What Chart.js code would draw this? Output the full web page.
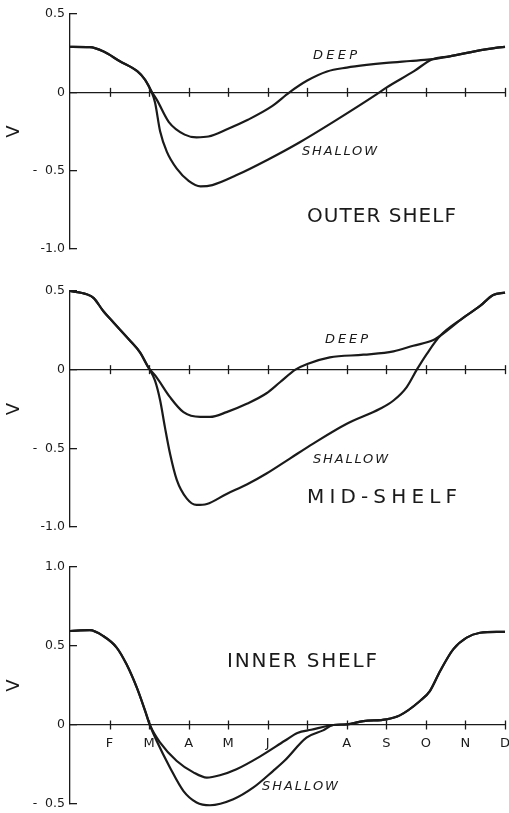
<!DOCTYPE html>
<html>
<head>
<meta charset="utf-8">
<title>Shelf V seasonal cycle</title>
<script src="https://cdn.jsdelivr.net/npm/chart.js@4.4.1/dist/chart.umd.min.js"></script>
<style>
    html, body { margin: 0; padding: 0; background: #fff; }
    #page { position: relative; width: 509px; height: 813px; overflow: hidden; }
    #page canvas { position: absolute; left: 0; }
</style>
</head>
<body>
<div id="page">
    <canvas id="outer-chart"></canvas>
    <canvas id="mid-chart"></canvas>
    <canvas id="inner-chart"></canvas>
</div>
<script>
// Month ticks: 0 = Jan ... 11 = Dec (J and the July J are not printed)
const monthLabels = ['', 'F', 'M', 'A', 'M', 'J', '', 'A', 'S', 'O', 'N', 'D'];
const yTickVals = [-1, -0.5, 0, 0.5, 1];
const yTickText = ['-1.0', '-  0.5', '0', '0.5', '1.0'];

// [month, V]
const outerDeep = [[0, 0.29], [0.5, 0.288], [0.85, 0.26], [1.25, 0.2], [1.7, 0.135], [1.9, 0.08], [2.05, 0.01],
    [2.2, -0.05], [2.5, -0.19], [2.9, -0.27], [3.2, -0.287], [3.5, -0.282], [4, -0.232], [4.5, -0.175],
    [5.1, -0.09], [5.55, 0], [6, 0.075], [6.5, 0.133], [7, 0.158], [7.5, 0.175], [8, 0.188], [8.6, 0.2],
    [9.1, 0.21], [9.6, 0.23], [10.2, 0.26], [10.8, 0.285], [11, 0.29]];
const outerShallow = [[0, 0.29], [0.5, 0.288], [0.85, 0.26], [1.25, 0.2], [1.7, 0.135], [1.9, 0.08], [2.05, 0.01],
    [2.15, -0.065], [2.28, -0.25], [2.45, -0.38], [2.7, -0.487], [3, -0.565], [3.3, -0.6], [3.6, -0.592],
    [4.2, -0.53], [5, -0.43], [5.8, -0.32], [6.65, -0.19], [7.75, -0.013], [8, 0.03],
    [8.7, 0.135], [9.15, 0.21], [9.6, 0.23], [10.2, 0.26], [10.8, 0.285], [11, 0.29]];

const midDeep = [[0, 0.5], [0.42, 0.479], [0.6, 0.455], [0.84, 0.373], [1.1, 0.3], [1.52, 0.184], [1.77, 0.11], [1.98, 0.015],
    [2.19, -0.049], [2.53, -0.175], [2.87, -0.27], [3.29, -0.3], [3.54, -0.3], [3.96, -0.27], [4.47, -0.217],
    [4.97, -0.15], [5.31, -0.08], [5.7, 0], [6, 0.036], [6.57, 0.078], [7.42, 0.095], [8.18, 0.116],
    [8.68, 0.152], [9.19, 0.188], [9.36, 0.215], [9.95, 0.331], [10.37, 0.405], [10.7, 0.475], [11, 0.49]];
const midShallow = [[0, 0.5], [0.42, 0.479], [0.6, 0.455], [0.84, 0.373], [1.1, 0.3], [1.52, 0.184], [1.77, 0.11], [1.98, 0.015],
    [2.15, -0.07], [2.28, -0.196], [2.4, -0.365], [2.53, -0.534], [2.7, -0.7], [2.95, -0.818], [3.2, -0.86],
    [3.46, -0.854], [3.96, -0.79], [4.47, -0.73], [4.97, -0.66], [5.56, -0.565], [6.15, -0.47], [7, -0.344],
    [7.84, -0.249], [8.18, -0.196], [8.51, -0.112], [8.77, 0], [9.02, 0.099], [9.36, 0.215], [9.95, 0.331],
    [10.37, 0.405], [10.7, 0.475], [11, 0.49]];

const innerDeep = [[0, 0.595], [0.5, 0.6], [0.84, 0.563], [1.18, 0.49], [1.43, 0.384], [1.69, 0.236], [1.9, 0.089], [2.02, 0],
    [2.28, -0.112], [2.7, -0.228], [3.12, -0.3], [3.46, -0.333], [3.79, -0.318], [4.21, -0.28], [4.8, -0.2],
    [5.43, -0.1], [5.75, -0.05], [6.1, -0.03], [6.66, 0], [7, 0.004], [7.42, 0.025], [8, 0.036], [8.34, 0.061],
    [8.85, 0.152], [9.1, 0.215], [9.36, 0.342], [9.69, 0.479], [10.03, 0.553], [10.37, 0.584], [10.79, 0.59], [11, 0.59]];
const innerShallow = [[0, 0.595], [0.5, 0.6], [0.84, 0.563], [1.18, 0.49], [1.43, 0.384], [1.69, 0.236], [1.9, 0.089], [2.02, 0],
    [2.19, -0.1], [2.53, -0.27], [2.87, -0.418], [3.2, -0.49], [3.54, -0.508], [4.13, -0.47], [4.63, -0.397],
    [5.14, -0.29], [5.43, -0.225], [5.98, -0.08], [6.4, -0.034], [6.66, 0], [7, 0.004], [7.42, 0.025], [8, 0.036],
    [8.34, 0.061], [8.85, 0.152], [9.1, 0.215], [9.36, 0.342], [9.69, 0.479], [10.03, 0.553], [10.37, 0.584],
    [10.79, 0.59], [11, 0.59]];

const FONT = "'DejaVu Sans', 'Liberation Sans', sans-serif";
const INK = '#1a1a1a';

// panel placement on the page and the hand-lettered notes (page coordinates)
const panels = [
    {
        id: 'outer-chart', top: 0, height: 262, pad: { top: 14, bottom: 13 },
        yMin: -1, yMax: 0.5, months: false, deep: outerDeep, shallow: outerShallow,
        notes: [
            { text: 'DEEP', x: 313, y: 59, size: 13, italic: true, w: 44 },
            { text: 'SHALLOW', x: 302, y: 155, size: 13, italic: true, w: 75 },
            { text: 'OUTER SHELF', x: 307, y: 222, size: 20, italic: false, w: 149 }
        ]
    },
    {
        id: 'mid-chart', top: 270, height: 270, pad: { top: 21, bottom: 13 },
        yMin: -1, yMax: 0.5, months: false, deep: midDeep, shallow: midShallow,
        notes: [
            { text: 'DEEP', x: 325, y: 343, size: 13, italic: true, w: 43 },
            { text: 'SHALLOW', x: 313, y: 463, size: 13, italic: true, w: 75 },
            { text: 'MID-SHELF', x: 307, y: 503, size: 20, italic: false, w: 150 }
        ]
    },
    {
        id: 'inner-chart', top: 540, height: 273, pad: { top: 27, bottom: 9 },
        yMin: -0.5, yMax: 1, months: true, deep: innerDeep, shallow: innerShallow,
        notes: [
            { text: 'INNER SHELF', x: 227, y: 667, size: 20, italic: false, w: 150 },
            { text: 'SHALLOW', x: 262, y: 790, size: 13, italic: true, w: 76 }
        ]
    }
];

// tick marks that cross the zero line, plus the lettering
const shelfDecor = {
    id: 'shelfDecor',
    afterDraw(chart, args, opts) {
        const { ctx, scales } = chart;
        const y0 = scales.y.getPixelForValue(0);
        ctx.save();
        ctx.strokeStyle = INK;
        ctx.lineWidth = 1.3;
        scales.x.ticks.forEach(t => {
            if (t.value <= 0) return;
            const px = Math.round(scales.x.getPixelForValue(t.value)) + 0.5;
            ctx.beginPath();
            ctx.moveTo(px, y0 - 4.5);
            ctx.lineTo(px, y0 + 4.5);
            ctx.stroke();
        });

        ctx.fillStyle = INK;
        ctx.textAlign = 'left';
        ctx.textBaseline = 'alphabetic';
        opts.notes.forEach(n => {
            ctx.font = (n.italic ? 'italic ' : '') + n.size + 'px ' + FONT;
            if ('letterSpacing' in ctx) {
                ctx.letterSpacing = '0px';
                const natural = ctx.measureText(n.text).width;
                ctx.letterSpacing = ((n.w - natural) / (n.text.length - 1)).toFixed(2) + 'px';
            }
            ctx.fillText(n.text, n.x, n.y - opts.top);
        });
        ctx.restore();
    }
};

function buildPanel(p) {
    const canvas = document.getElementById(p.id);
    canvas.width = 509;
    canvas.height = p.height;
    canvas.style.top = p.top + 'px';

    const line = (label, pts) => ({
        label: label,
        data: pts.map(d => ({ x: d[0], y: d[1] })),
        borderColor: INK,
        borderWidth: 2.2,
        pointRadius: 0,
        fill: false,
        clip: false,
        cubicInterpolationMode: 'monotone'
    });

    return new Chart(canvas, {
        type: 'line',
        data: { datasets: [line('Deep', p.deep), line('Shallow', p.shallow)] },
        options: {
            responsive: false,
            animation: false,
            devicePixelRatio: 1,
            layout: { padding: { top: p.pad.top, bottom: p.pad.bottom, left: 0, right: 4 } },
            plugins: {
                legend: { display: false },
                tooltip: { enabled: false },
                shelfDecor: { notes: p.notes, top: p.top }
            },
            scales: {
                x: {
                    type: 'linear',
                    min: 0,
                    max: 11,
                    position: { y: 0 },
                    border: { display: true, color: INK, width: 1.3 },
                    grid: { display: true, drawOnChartArea: false, drawTicks: false },
                    ticks: {
                        display: p.months,
                        stepSize: 1,
                        autoSkip: false,
                        maxRotation: 0,
                        padding: 11,
                        color: INK,
                        font: { family: FONT, size: 13 },
                        callback: v => monthLabels[v]
                    },
                    afterFit(s) { s.paddingLeft = 0; s.paddingRight = 0; }
                },
                y: {
                    min: p.yMin,
                    max: p.yMax,
                    border: { display: true, color: INK, width: 1.3 },
                    grid: { display: true, drawOnChartArea: false, drawTicks: true, tickLength: -7, color: INK, lineWidth: 1.3 },
                    ticks: {
                        stepSize: 0.5,
                        padding: 12,
                        color: INK,
                        font: { family: FONT, size: 12.5 },
                        callback: v => yTickText[yTickVals.indexOf(v)]
                    },
                    title: {
                        display: true,
                        text: 'V',
                        color: INK,
                        font: { family: FONT, size: 18 },
                        padding: { top: 4, bottom: 0 }
                    },
                    afterFit(s) { s.width = 70; s.paddingTop = 0; s.paddingBottom = 0; }
                }
            }
        },
        plugins: [shelfDecor]
    });
}

const charts = panels.map(buildPanel);
</script>
</body>
</html>
